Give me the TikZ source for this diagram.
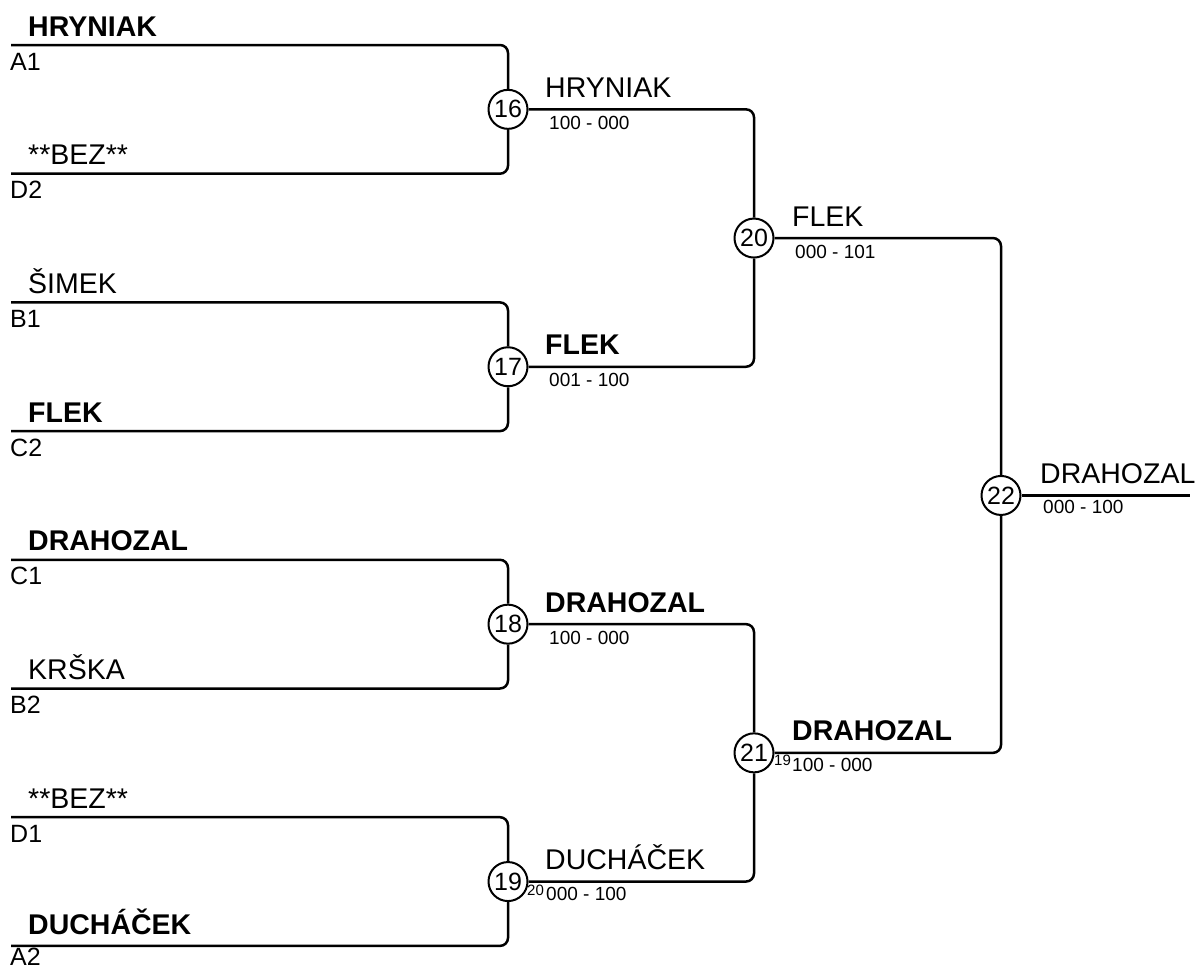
\documentclass[tikz,border=0pt]{standalone}
\usepackage{fontspec}
\setmainfont{Liberation Sans}
\begin{document}
\begin{tikzpicture}[x=1pt,y=-1pt,
  match/.style={circle, draw, line width=2pt, inner sep=0pt, minimum size=39pt, fill=white, font=\fontsize{25}{25}\selectfont},
  pname/.style={anchor=base west, inner sep=0pt, font=\fontsize{28.5}{28.5}\selectfont},
  wname/.style={anchor=base west, inner sep=0pt, font=\fontsize{28.5}{28.5}\selectfont\bfseries},
  slot/.style={anchor=base west, inner sep=0pt, font=\fontsize{25}{25}\selectfont},
  score/.style={anchor=base west, inner sep=0pt, font=\fontsize{19}{19}\selectfont},
  subno/.style={anchor=base west, inner sep=0pt, font=\fontsize{15}{15}\selectfont},
  wire/.style={line width=2.5pt, rounded corners=8pt}]
\useasboundingbox (0,0) rectangle (1197,969);
% first-round line starts
\coordinate (l1) at (11,45);
\coordinate (l2) at (11,173.7);
\coordinate (l3) at (11,302.4);
\coordinate (l4) at (11,431.1);
\coordinate (l5) at (11,559.8);
\coordinate (l6) at (11,688.5);
\coordinate (l7) at (11,817.2);
\coordinate (l8) at (11,945.9);
% matches
\node[match] (m16) at (508,109.35) {16};
\node[match] (m17) at (508,366.75) {17};
\node[match] (m18) at (508,624.15) {18};
\node[match] (m19) at (508,881.55) {19};
\node[match] (m20) at (754,238.05) {20};
\node[match] (m21) at (754,752.85) {21};
\node[match] (m22) at (1001,495.45) {22};
\coordinate (fin) at (1190,495.45);
% wires
\draw[wire] (l1) -| (m16.north);
\draw[wire] (l2) -| (m16.south);
\draw[wire] (l3) -| (m17.north);
\draw[wire] (l4) -| (m17.south);
\draw[wire] (l5) -| (m18.north);
\draw[wire] (l6) -| (m18.south);
\draw[wire] (l7) -| (m19.north);
\draw[wire] (l8) -| (m19.south);
\draw[wire] (m16.east) -| (m20.north);
\draw[wire] (m17.east) -| (m20.south);
\draw[wire] (m18.east) -| (m21.north);
\draw[wire] (m19.east) -| (m21.south);
\draw[wire] (m20.east) -| (m22.north);
\draw[wire] (m21.east) -| (m22.south);
\draw[wire] (m22.east) -- (fin);
% first-round names and slots
\node[wname] (n1) at (28,36) {HRYNIAK};
\node[slot] (s1) at (10,70) {A1};
\node[pname] (n2) at (28,164.7) {**BEZ**};
\node[slot] (s2) at (10,198.7) {D2};
\node[pname] (n3) at (28,293.4) {ŠIMEK};
\node[slot] (s3) at (10,327.4) {B1};
\node[wname] (n4) at (28,422.1) {FLEK};
\node[slot] (s4) at (10,456.1) {C2};
\node[wname] (n5) at (28,550.8) {DRAHOZAL};
\node[slot] (s5) at (10,584.8) {C1};
\node[pname] (n6) at (28,679.5) {KRŠKA};
\node[slot] (s6) at (10,713.5) {B2};
\node[pname] (n7) at (28,808.2) {**BEZ**};
\node[slot] (s7) at (10,842.2) {D1};
\node[wname] (n8) at (28,934.9) {DUCHÁČEK};
\node[slot] (s8) at (10,965) {A2};
% round two
\node[pname] (w16) at (545,97.35) {HRYNIAK};
\node[score] (r16) at (549,129.35) {100 - 000};
\node[wname] (w17) at (545,354.75) {FLEK};
\node[score] (r17) at (549,386.75) {001 - 100};
\node[wname] (w18) at (545,612.15) {DRAHOZAL};
\node[score] (r18) at (549,644.15) {100 - 000};
\node[pname] (w19) at (545,869.55) {DUCHÁČEK};
\node[subno] (x19) at (527,895.5) {20};
\node[score] (r19) at (546,900.55) {000 - 100};
% round three
\node[pname] (w20) at (792,226.05) {FLEK};
\node[score] (r20) at (795,258.05) {000 - 101};
\node[wname] (w21) at (792,740.85) {DRAHOZAL};
\node[subno] (x21) at (774,765.85) {19};
\node[score] (r21) at (792,771.85) {100 - 000};
% final
\node[pname] (w22) at (1040,483.45) {DRAHOZAL};
\node[score] (r22) at (1043,513.45) {000 - 100};
\end{tikzpicture}
\end{document}
